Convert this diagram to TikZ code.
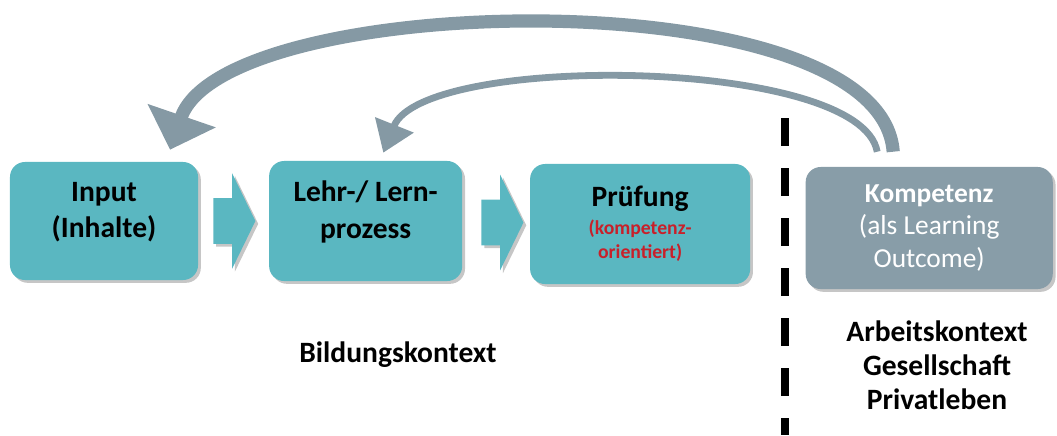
\documentclass[tikz,border=0pt]{standalone}
\usepackage{fontspec}
\setmainfont{Carlito}
\usetikzlibrary{positioning,calc,shapes.arrows,shadows,arrows.meta}

\definecolor{boxteal}{HTML}{5AB7C1}
\definecolor{boxgray}{HTML}{889DA8}
\definecolor{bendgray}{HTML}{8599A4}
\definecolor{examred}{HTML}{C8202A}

\newcommand{\subline}[1]{\textcolor{examred}{\fontsize{14}{15}\selectfont\bfseries #1}}

\begin{document}
\begin{tikzpicture}[x=0.025cm,y=-0.025cm,on grid,
   box/.style={rounded corners=0.375cm,fill=boxteal,minimum width=4.7cm,
      minimum height=2.95cm,align=center,font=\fontsize{21}{26}\selectfont,
      drop shadow={shadow xshift=2pt,shadow yshift=-2pt,opacity=0.45}},
   flow/.style={single arrow,fill=boxteal,inner sep=0pt,minimum height=1.05cm,
      text height=0.5625cm,text depth=0.5625cm,single arrow head extend=0.625cm,
      single arrow tip angle=128,xshift=-0.15cm,
      drop shadow={shadow xshift=2pt,shadow yshift=-2pt,opacity=0.45}},
   ctx/.style={align=center,font=\fontsize{21}{24}\selectfont\bfseries},
   backarc/.style={draw=bendgray}] 
   \useasboundingbox (0,0) rectangle (1057,435);

   \node[box,text depth=16pt] (in) at (104,221) {\textbf{Input}\\\textbf{(Inhalte)}};
   \node[box,text depth=16pt,minimum width=4.825cm,minimum height=3cm] (lern) [right=6.54cm of in] {\textbf{Lehr-/ Lern-}\\\textbf{prozess}};
   \node[box,minimum width=5.5cm,minimum height=3cm] (pruef) [right=6.86cm of lern,yshift=-0.075cm] {\textbf{Prüfung}\\[-6pt]\subline{(kompetenz-}\\[-9pt]\subline{orientiert)}};
   \node[box,fill=boxgray,text=white,minimum width=6.175cm,minimum height=3.05cm,
      font=\fontsize{19.5}{23}\selectfont] (komp) [right=7.225cm of pruef,yshift=-0.1cm] {\textbf{Kompetenz}\\(als Learning\\Outcome)};

   \node[flow] (f1) at ($(in)!.5!(lern)$) {};
   \node[flow] (f2) at ($(lern)!.5!(pruef)$) {};

   \draw[line width=5pt,dash pattern=on 0.7cm off 0.55cm] (785,118) -- (785,435);

   \node[ctx] (bild) at (398,355) {Bildungskontext};
   \node[ctx] (welt) at (937,365) {Arbeitskontext\\Gesellschaft\\Privatleben};

   % feedback arcs
   \draw[backarc,line width=0.33cm,-{Triangle[width=1.75cm,length=0.9cm]}]
      ([xshift=-0.9cm,yshift=0.375cm]komp.north) .. controls +(-13,-175) and +(55,-160) .. ([xshift=1.65cm,yshift=0.3cm]in.north);
   \draw[backarc,line width=0.17cm,-{Triangle[width=1cm,length=0.75cm]}]
      ([xshift=-1.3cm,yshift=0.375cm]komp.north) .. controls +(-17,-95) and +(40,-100) .. ([xshift=0.44cm,yshift=0.2cm]lern.north);
\end{tikzpicture}
\end{document}
